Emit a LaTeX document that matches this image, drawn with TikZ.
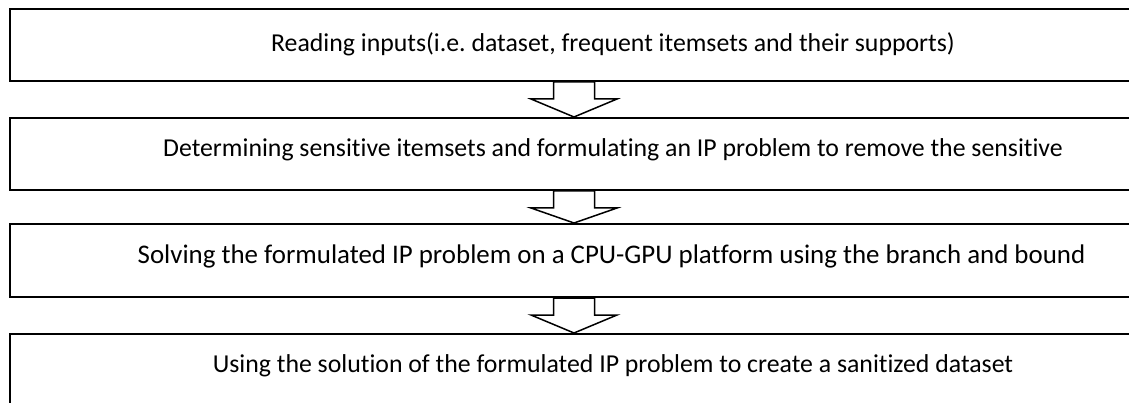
\documentclass[tikz,border=0pt]{standalone}
\usepackage{fontspec}
\setmainfont[Ligatures=NoCommon]{Carlito}
\usetikzlibrary{calc}
\frenchspacing
\tikzset{
  box/.style={draw, line width=2pt, rectangle, minimum width=1209.5pt, minimum height=72pt, anchor=north west, inner sep=0pt},
  lbl/.style={anchor=base, inner sep=0pt, font=\fontsize{25.8pt}{28pt}\selectfont},
  barrow/.style={draw, fill=white, line width=1.5pt, line join=miter}
}
\newcommand\flowarrow[2]{%
  \draw[barrow] ($(#1.south -| ax)+(-20.5,0)$) -- ($(#1.south -| ax)+(-20.5,17)$) -- ($(#1.south -| ax)+(-43,17)$) -- (#2.north -| ax) -- ($(#1.south -| ax)+(43,17)$) -- ($(#1.south -| ax)+(20.5,17)$) -- ($(#1.south -| ax)+(20.5,0)$) -- cycle;}
\begin{document}
\begin{tikzpicture}[x=1pt,y=-1pt]
\useasboundingbox[fill=white] (0,0) rectangle (1129,403);
\clip (0,0) rectangle (1129,403);
\coordinate (ax) at (574,0);
\node[box] (b1) at (8.5,8) {};
\node[box] (b2) at (8.5,117) {};
\node[box, minimum height=73pt] (b3) at (8.5,223) {};
\node[box, minimum height=110pt] (b4) at (8.5,333) {};
\node[lbl] (t1) at (613,52) {Reading inputs(i.e. dataset, frequent itemsets and their supports)};
\node[lbl] (t2) at (613,157) {Determining sensitive itemsets and formulating an IP problem to remove the sensitive};
\node[lbl, font=\fontsize{26.9pt}{29pt}\selectfont] (t3) at (611.5,263) {Solving the formulated IP problem on a CPU-GPU platform using the branch and bound};
\node[lbl] (t4) at (613,372) {Using the solution of the formulated IP problem to create a sanitized dataset};
\flowarrow{b1}{b2}
\flowarrow{b2}{b3}
\flowarrow{b3}{b4}
\end{tikzpicture}
\end{document}
